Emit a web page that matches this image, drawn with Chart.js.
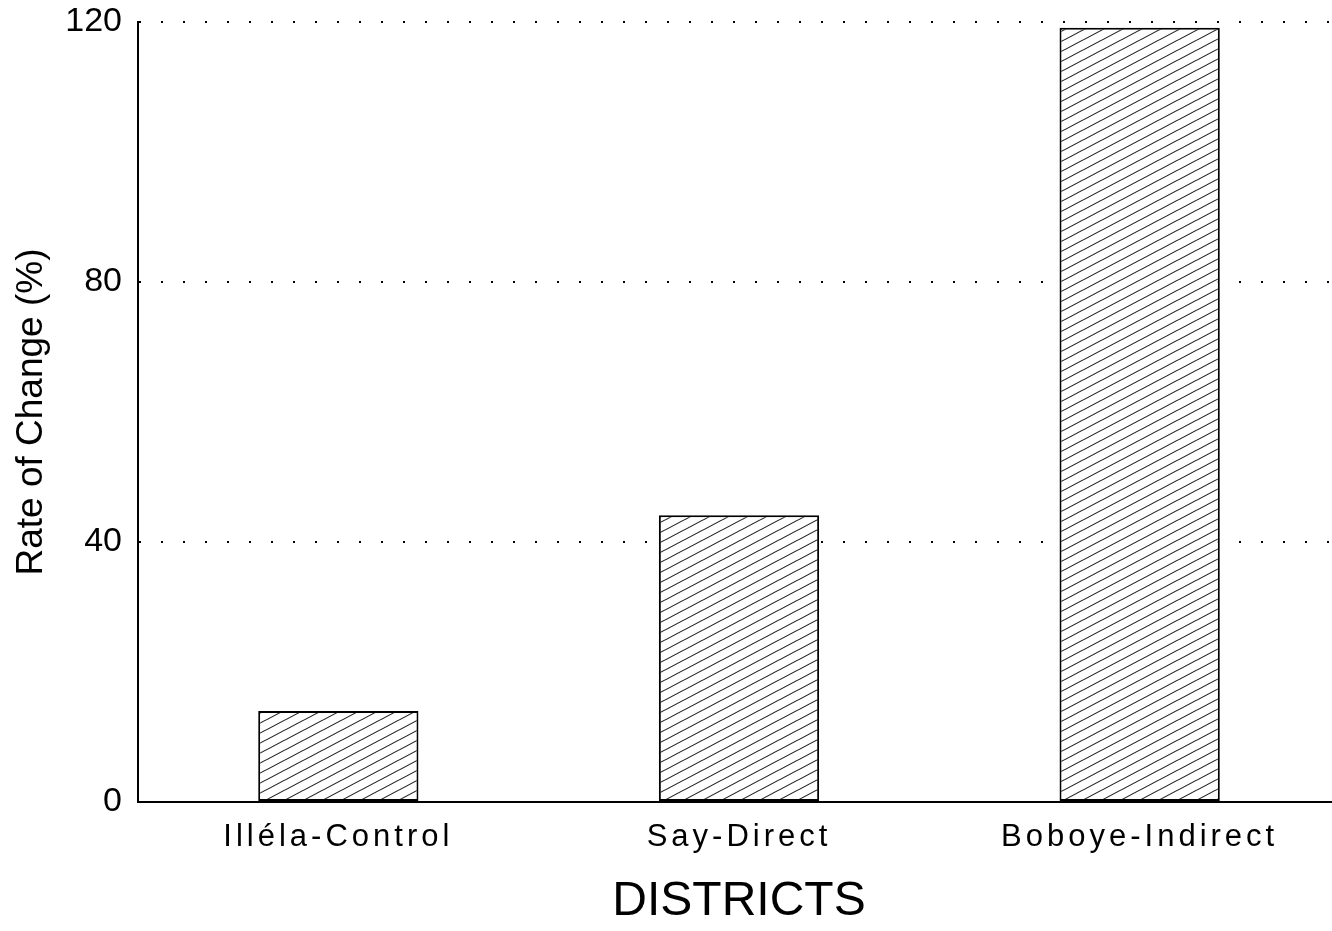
<!DOCTYPE html>
<html>
<head>
<meta charset="utf-8">
<script src="https://cdn.jsdelivr.net/npm/chart.js@4.4.1/dist/chart.umd.min.js"></script>
<style>
  html, body { margin: 0; padding: 0; background: #fff; }
  #rateChart { display: block; }
</style>
</head>
<body>
<canvas id="rateChart" width="1332" height="931"></canvas>
<script>
const districts = ['Illéla-Control', 'Say-Direct', 'Boboye-Indirect'];
const rateOfChange = [14.0, 44.1, 119.1];
const yTicks = [0, 40, 80, 120];

// diagonal hatch used as bar fill
function makeHatch(ctx) {
    const tile = document.createElement('canvas');
    const w = 19, h = 10;
    tile.width = w;
    tile.height = h;
    const t = tile.getContext('2d');
    t.fillStyle = '#fff';
    t.fillRect(0, 0, w, h);
    t.strokeStyle = '#222';
    t.lineWidth = 1.1;
    for (const dx of [-w, 0, w]) {
        t.beginPath();
        t.moveTo(dx - w, 2 * h);
        t.lineTo(dx + 2 * w, -h);
        t.stroke();
    }
    return ctx.createPattern(tile, 'repeat');
}

// the x labels in the original are spaced out a bit
const xLabelSpacing = {
    id: 'xLabelSpacing',
    beforeDraw(chart) {
        const sc = chart.scales.x;
        if (sc._spaced) return;
        const orig = sc.drawLabels.bind(sc);
        sc.drawLabels = function (area) {
            const prev = this.ctx.letterSpacing;
            this.ctx.letterSpacing = '4px';
            orig(area);
            this.ctx.letterSpacing = prev;
        };
        sc._spaced = true;
    }
};

// the original's category band runs a little past the right edge of the picture
const stretchX = {
    id: 'stretchX',
    afterLayout(chart) {
        const sc = chart.scales.x;
        sc.right = 1340;
        sc.width = sc.right - sc.left;
        sc.configure();
    }
};

const ctx = document.getElementById('rateChart').getContext('2d');
const hatch = makeHatch(ctx);
const font = 'Liberation Sans, Arial, Helvetica, sans-serif';

const rateChart = new Chart(ctx, {
    type: 'bar',
    data: {
        labels: districts,
        datasets: [{
            data: rateOfChange,
            backgroundColor: hatch,
            borderColor: '#000',
            borderWidth: 2,
            borderSkipped: false,
            categoryPercentage: 1,
            barPercentage: 0.4
        }]
    },
    options: {
        responsive: false,
        animation: false,
        layout: { padding: { left: 0, right: 0, top: 22, bottom: 0 } },
        plugins: {
            legend: { display: false },
            tooltip: { enabled: false }
        },
        scales: {
            x: {
                grid: { display: false, drawTicks: false },
                border: { display: true, color: '#000', width: 2 },
                ticks: {
                    color: '#000',
                    padding: 17,
                    font: { family: font, size: 31 }
                },
                title: {
                    display: true,
                    text: 'DISTRICTS',
                    color: '#000',
                    font: { family: font, size: 48 },
                    padding: { top: 0, bottom: 0 }
                },
                afterFit(scale) {
                    scale.height = 129;
                    scale.paddingLeft = 0;
                    scale.paddingRight = 0;
                }
            },
            y: {
                min: 0,
                max: 120,
                afterBuildTicks(scale) {
                    scale.ticks = yTicks.map(v => ({ value: v }));
                },
                grid: {
                    color: '#000',
                    lineWidth: 2,
                    drawTicks: false
                },
                border: { display: true, color: '#000', width: 2, dash: [2, 20] },
                ticks: {
                    color: '#000',
                    padding: 16,
                    font: { family: font, size: 34 }
                },
                title: {
                    display: true,
                    text: 'Rate of Change (%)',
                    color: '#000',
                    font: { family: font, size: 37 },
                    padding: { top: 10, bottom: 0 }
                },
                afterFit(scale) {
                    scale.width = 138;
                    scale.paddingTop = 0;
                    scale.paddingBottom = 0;
                }
            }
        }
    },
    plugins: [xLabelSpacing, stretchX]
});
</script>
</body>
</html>
